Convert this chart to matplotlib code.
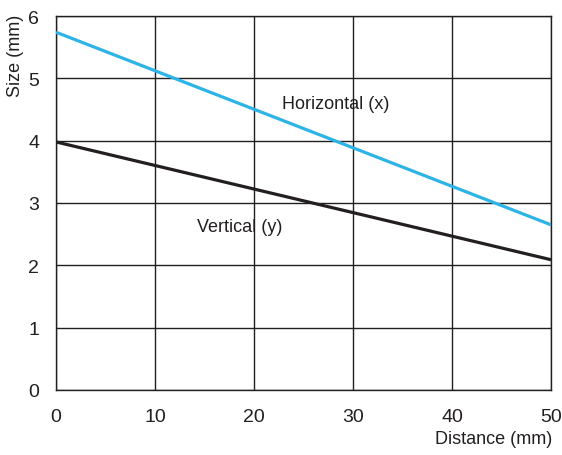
import matplotlib
matplotlib.use("Agg")
import matplotlib.pyplot as plt

plt.rcParams['font.family'] = ['Liberation Sans', 'DejaVu Sans']

distance = [0, 50]
horizontal = [5.74, 2.65]
vertical = [3.98, 2.09]
x_ticks = [0, 10, 20, 30, 40, 50]
y_ticks = [0, 1, 2, 3, 4, 5, 6]

fig = plt.figure(figsize=(5.62, 4.56), dpi=100)
W, H = 562, 456
left, right, top, bottom = 56, 551, 17, 391
ax = fig.add_axes([left / W, 1 - bottom / H, (right - left) / W, (bottom - top) / H])

ax.plot(distance, horizontal, color='#2DB4E6', lw=2.3, solid_capstyle='butt', zorder=3)
ax.plot(distance, vertical, color='#231F20', lw=2.3, solid_capstyle='butt', zorder=3)

ax.set_xlim(0, 50)
ax.set_ylim(0, 6)
ax.set_xticks(x_ticks)
ax.set_yticks(y_ticks)
ax.grid(True, color='#231F20', lw=1.0)
ax.tick_params(length=0, labelsize=14, colors='#231F20', pad=13)
ax.tick_params(axis='y', pad=12)
for s in ax.spines.values():
    s.set_color('#231F20')
    s.set_linewidth(1.0)

ax.text(22.8, 4.59, 'Horizontal (x)', fontsize=13, color='#231F20', va='center', ha='left', zorder=4)
ax.text(14.2, 2.63, 'Vertical (y)', fontsize=13, color='#231F20', va='center', ha='left', zorder=4)

fig.text(15 / W, 1 - 15 / H, 'Size (mm)', rotation=90, fontsize=13, color='#231F20', ha='center', va='top')
fig.text(552 / W, 1 - 440 / H, 'Distance (mm)', fontsize=13, color='#231F20', ha='right', va='center')

fig.savefig('out.png', dpi=100)
